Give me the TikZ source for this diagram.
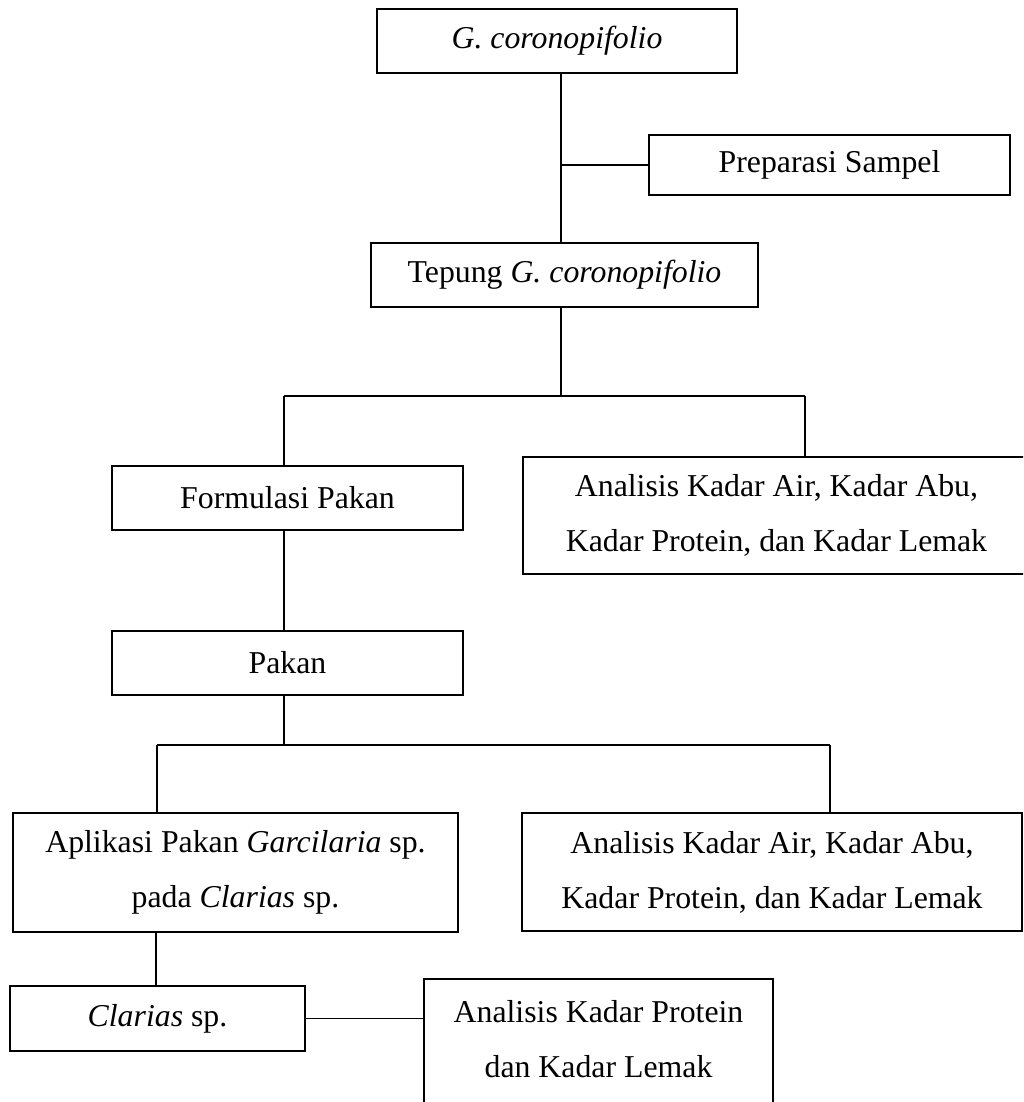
\documentclass[tikz,border=0pt]{standalone}
\usepackage{fontspec}
\setmainfont{Liberation Serif}
\begin{document}
\begin{tikzpicture}[x=1pt,y=-1pt,
  box/.style={draw=black, line width=1.6pt, inner sep=0pt, align=center,
    font=\fontsize{31.8}{55}\selectfont},
  conn/.style={draw=black, line width=1.5pt}]
\useasboundingbox (0,0) rectangle (1023,1102);
\clip (0,0) rectangle (1023,1102);
\fill[white] (0,0) rectangle (1023,1102);

\node[box, minimum width=360, minimum height=64] (g) at (557,41) {\textit{G. coronopifolio}};
\node[box, minimum width=361, minimum height=60] (prep) at (829.5,165) {Preparasi Sampel};
\node[box, minimum width=387, minimum height=64] (tep) at (564.5,275) {Tepung \textit{G. coronopifolio}};
\node[box, minimum width=351, minimum height=64] (form) at (287.5,498) {Formulasi Pakan};
\node[box, minimum width=507, minimum height=117] (an1) at (776.5,515.5) {Analisis Kadar Air, Kadar Abu,\\Kadar Protein, dan Kadar Lemak};
\node[box, minimum width=351, minimum height=64] (pakan) at (287.5,663) {Pakan};
\node[box, minimum width=445, minimum height=119] (apl) at (235.5,872.5) {Aplikasi Pakan \textit{Garcilaria} sp.\\pada \textit{Clarias} sp.};
\node[box, minimum width=500, minimum height=118] (an2) at (772,872) {Analisis Kadar Air, Kadar Abu,\\Kadar Protein, dan Kadar Lemak};
\node[box, minimum width=295, minimum height=65] (clar) at (157.5,1018.5) {\textit{Clarias} sp.};
\node[box, minimum width=349, minimum height=130] (an3) at (598.5,1044) {};
\node[box, draw=none] (an3t) at (598.5,1039) {Analisis Kadar Protein\\dan Kadar Lemak};

% junctions
\coordinate (j1) at (561,165);
\coordinate (j2) at (561,396);
\coordinate (b1l) at (284,396);
\coordinate (b1r) at (805,396);
\coordinate (j3) at (284,745);
\coordinate (b2l) at (157,745);
\coordinate (b2r) at (830,745);
\coordinate (j4) at (156,950);

\draw[conn] (g.south -| j1) -- (tep.north -| j1);
\draw[conn] (j1) -- (prep.west);
\draw[conn] (tep.south -| j2) -- (j2);
\draw[conn] (b1l) -- (b1r);
\draw[conn] (b1l) -- (form.north -| b1l);
\draw[conn] (b1r) -- (an1.north -| b1r);
\draw[conn] (form.south -| b1l) -- (pakan.north -| b1l);
\draw[conn] (pakan.south -| j3) -- (j3);
\draw[conn] (b2l) -- (b2r);
\draw[conn] (b2l) -- (apl.north -| b2l);
\draw[conn] (b2r) -- (an2.north -| b2r);
\draw[conn] (apl.south -| j4) -- (clar.north -| j4);
\draw[conn] (clar.east) -- (an3.west |- clar.east);
\end{tikzpicture}
\end{document}
